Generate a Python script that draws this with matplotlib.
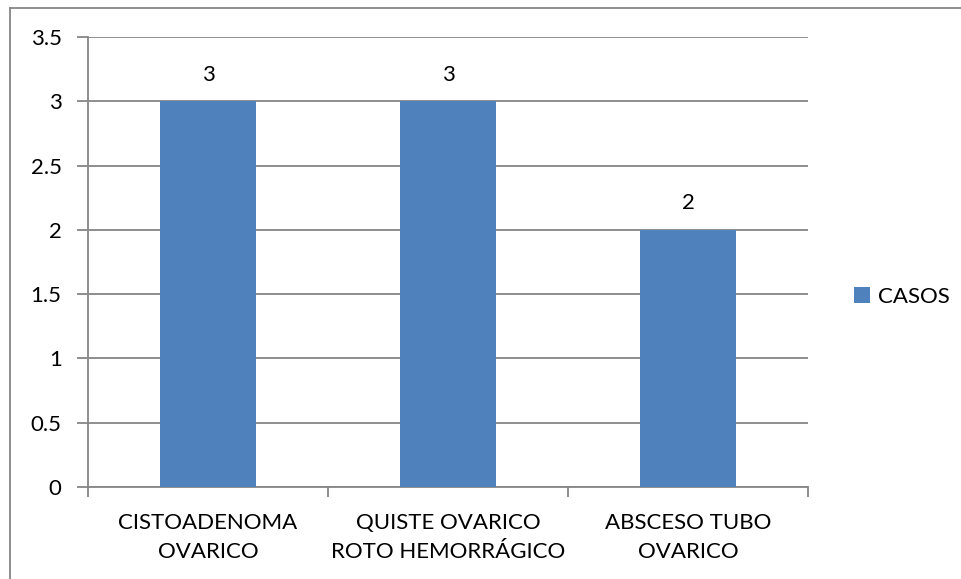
import matplotlib.pyplot as plt
from matplotlib.lines import Line2D

categories = ["CISTOADENOMA\nOVARICO", "QUISTE OVARICO\nROTO HEMORRÁGICO", "ABSCESO TUBO\nOVARICO"]
casos = [3, 3, 2]
yticks = [0, 0.5, 1, 1.5, 2, 2.5, 3, 3.5]
ytick_labels = ["0", "0.5", "1", "1.5", "2", "2.5", "3", "3.5"]

bar_color = "#4F81BD"
grid_color = "#868686"

plt.rcParams["font.family"] = ["Lato", "DejaVu Sans"]

W, H = 961, 579
fig = plt.figure(figsize=(W / 100, H / 100), dpi=100)
ax = fig.add_axes([88 / W, 1 - 487 / H, 720 / W, 450 / H])

x = list(range(len(categories)))
bars = ax.bar(x, casos, width=0.4, color=bar_color, label="CASOS", zorder=3)

ax.set_xlim(-0.5, len(categories) - 0.5)
ax.set_ylim(0, 3.5)
ax.set_yticks(yticks)
ax.set_yticklabels(ytick_labels, fontsize=16)
ax.yaxis.grid(True, color=grid_color, linewidth=1.3, zorder=0)

# category boundary ticks on the x axis
ax.set_xticks([i - 0.5 for i in range(len(categories) + 1)])
ax.set_xticklabels([])
ax.set_xticks(x, minor=True)
ax.set_xticklabels(categories, minor=True, fontsize=16, linespacing=1.55)
ax.tick_params(axis="x", which="minor", length=0, pad=19)
ax.tick_params(axis="x", which="major", length=7, width=1.3, color=grid_color)
ax.tick_params(axis="y", length=8, width=1.3, color=grid_color, pad=11)

for side in ["top", "right"]:
    ax.spines[side].set_visible(False)
for side in ["left", "bottom"]:
    ax.spines[side].set_color(grid_color)
    ax.spines[side].set_linewidth(1.3)

for b, v in zip(bars, casos):
    ax.annotate(str(v), (b.get_x() + b.get_width() / 2, v), xytext=(0, 19),
                textcoords="offset points", ha="center", va="center", fontsize=16)

leg = fig.legend(handles=[bars], labels=["CASOS"], loc="center left",
                 bbox_to_anchor=(834 / W, 1 - 297 / H), frameon=False,
                 fontsize=16, handlelength=0.7, handleheight=0.7, handletextpad=0.4)

# outer chart border (left and top edges visible)
fig.add_artist(Line2D([10 / W, 10 / W], [0, 1 - 8 / H], color=grid_color, lw=1.3))
fig.add_artist(Line2D([10 / W, 1], [1 - 8 / H, 1 - 8 / H], color=grid_color, lw=1.3))

fig.savefig("out.png", dpi=100)
